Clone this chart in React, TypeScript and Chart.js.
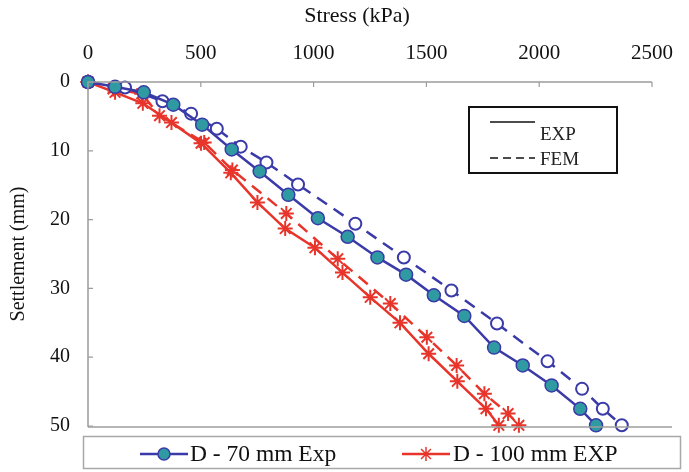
import React, { useEffect, useRef } from 'react';
import { Chart, registerables } from 'chart.js';

Chart.register(...registerables);

// ---- data ----
const xTickValues = [0, 500, 1000, 1500, 2000, 2500];
const yTickValues = [0, 10, 20, 30, 40, 50];

const d70ExpStress = [0, 120, 247, 378, 506, 637, 761, 888, 1019, 1151, 1283, 1410, 1533, 1668, 1800, 1927, 2055, 2182, 2252];
const d70ExpSettle = [0, 0.7, 1.5, 3.3, 6.2, 9.8, 13.0, 16.4, 19.8, 22.5, 25.5, 28.0, 31.0, 34.0, 38.6, 41.2, 44.1, 47.5, 49.9];

const d70FemStress = [0, 164, 330, 457, 571, 677, 791, 931, 1185, 1400, 1611, 1813, 2037, 2190, 2282, 2366];
const d70FemSettle = [0, 0.8, 2.8, 4.6, 6.8, 9.4, 11.7, 14.9, 20.6, 25.5, 30.3, 35.1, 40.6, 44.6, 47.5, 49.9];

const d100ExpStress = [0, 120, 243, 370, 501, 633, 751, 874, 1006, 1128, 1251, 1383, 1510, 1637, 1764, 1821];
const d100ExpSettle = [0, 1.5, 3.1, 5.9, 8.9, 13.2, 17.5, 21.3, 24.1, 27.7, 31.3, 35.0, 39.5, 43.5, 47.5, 49.9];

const d100FemStress = [0, 111, 238, 317, 515, 640, 879, 1107, 1340, 1502, 1634, 1757, 1862, 1910];
const d100FemSettle = [0, 1.0, 1.7, 4.9, 8.8, 12.8, 19.1, 25.7, 32.2, 37.1, 41.2, 45.3, 48.2, 49.9];

const xTitle = 'Stress (kPa)';
const yTitle = 'Settlement (mm)';
const legendLabels = ['D - 70 mm Exp', 'D - 100 mm EXP'];
const innerLegendLabels = ['EXP', 'FEM'];

const BLUE = '#3a3aa8';
const TEAL = '#2f9aa2';
const RED = '#e8352b';
const SERIF = '"Liberation Serif", "Times New Roman", serif';

const pts = (xs: number[], ys: number[]) => xs.map((x, i) => ({ x, y: ys[i] }));

function drawStar(ctx: CanvasRenderingContext2D, x: number, y: number, r: number) {
  ctx.beginPath();
  for (let k = 0; k < 4; k++) {
    const a = (k * Math.PI) / 4;
    ctx.moveTo(x - r * Math.cos(a), y - r * Math.sin(a));
    ctx.lineTo(x + r * Math.cos(a), y + r * Math.sin(a));
  }
  ctx.stroke();
}

const decor = {
  id: 'decor',
  afterDraw(chart: any) {
    const { ctx, chartArea: a, scales } = chart;
    const xs = scales.x;
    const ys = scales.y;
    ctx.save();
    // axis lines
    ctx.strokeStyle = '#9c9c9c';
    ctx.lineWidth = 1.5;
    ctx.beginPath();
    ctx.moveTo(a.left, a.bottom + 1);
    ctx.lineTo(a.left, a.top);
    ctx.lineTo(a.right, a.top);
    ctx.stroke();
    ctx.beginPath();
    ctx.moveTo(a.left, a.bottom + 1);
    ctx.lineTo(a.right + 20, a.bottom + 1);
    ctx.stroke();
    // inward tick marks
    ctx.lineWidth = 1.2;
    ctx.beginPath();
    xTickValues.forEach((v) => {
      const px = xs.getPixelForValue(v);
      ctx.moveTo(px, a.top);
      ctx.lineTo(px, a.top + 5);
    });
    yTickValues.forEach((v) => {
      const py = ys.getPixelForValue(v);
      ctx.moveTo(a.left, py);
      ctx.lineTo(a.left + 5, py);
    });
    ctx.stroke();

    // x axis title (top)
    ctx.fillStyle = '#111';
    ctx.font = `22px ${SERIF}`;
    ctx.textAlign = 'center';
    ctx.textBaseline = 'middle';
    ctx.fillText(xTitle, 357, 16);

    // inner legend (EXP / FEM)
    ctx.strokeStyle = '#111';
    ctx.lineWidth = 2;
    ctx.strokeRect(469, 107, 148, 66);
    ctx.lineWidth = 1.5;
    ctx.beginPath();
    ctx.moveTo(490, 122);
    ctx.lineTo(535, 122);
    ctx.stroke();
    ctx.setLineDash([8, 5]);
    ctx.beginPath();
    ctx.moveTo(490, 158);
    ctx.lineTo(535, 158);
    ctx.stroke();
    ctx.setLineDash([]);
    ctx.fillStyle = '#222';
    ctx.font = `19px ${SERIF}`;
    ctx.textAlign = 'left';
    ctx.fillText(innerLegendLabels[0], 540, 135);
    ctx.fillText(innerLegendLabels[1], 540, 160);

    // bottom legend
    ctx.strokeStyle = '#a8a8a8';
    ctx.lineWidth = 1.5;
    ctx.strokeRect(83.5, 436.5, 597, 32);
    const ly = 454;
    ctx.strokeStyle = BLUE;
    ctx.lineWidth = 2.5;
    ctx.beginPath();
    ctx.moveTo(140, ly);
    ctx.lineTo(188, ly);
    ctx.stroke();
    ctx.fillStyle = TEAL;
    ctx.lineWidth = 1.5;
    ctx.beginPath();
    ctx.arc(164, ly, 6, 0, Math.PI * 2);
    ctx.fill();
    ctx.stroke();
    ctx.strokeStyle = RED;
    ctx.lineWidth = 2.5;
    ctx.beginPath();
    ctx.moveTo(402, ly);
    ctx.lineTo(450, ly);
    ctx.stroke();
    ctx.lineWidth = 1.5;
    drawStar(ctx, 426, ly, 7);
    ctx.fillStyle = '#111';
    ctx.font = `23.5px ${SERIF}`;
    ctx.fillText(legendLabels[0], 190, ly + 1);
    ctx.fillText(legendLabels[1], 453, ly + 1);
    ctx.restore();
  },
};

export default function App() {
  const ref = useRef<HTMLCanvasElement>(null);
  useEffect(() => {
    document.body.style.margin = '0';
    const chart = new Chart(ref.current!, {
      type: 'scatter',
      data: {
        datasets: [
          {
            label: 'D - 70 mm Exp',
            data: pts(d70ExpStress, d70ExpSettle),
            showLine: true,
            borderColor: BLUE,
            borderWidth: 2.5,
            backgroundColor: TEAL,
            pointBackgroundColor: TEAL,
            pointBorderColor: BLUE,
            pointBorderWidth: 1.5,
            pointRadius: 6.5,
            tension: 0,
            clip: false,
          } as any,
          {
            label: 'D - 70 mm FEM',
            data: pts(d70FemStress, d70FemSettle),
            showLine: true,
            borderColor: BLUE,
            borderWidth: 2.5,
            borderDash: [12, 8],
            pointBackgroundColor: '#ffffff',
            pointBorderColor: BLUE,
            pointBorderWidth: 2,
            pointRadius: 6,
            tension: 0,
            clip: false,
          } as any,
          {
            label: 'D - 100 mm EXP',
            data: pts(d100ExpStress, d100ExpSettle),
            showLine: true,
            borderColor: RED,
            borderWidth: 2.5,
            pointStyle: 'star',
            pointBorderColor: RED,
            pointBorderWidth: 2,
            pointRadius: 7.5,
            tension: 0,
            clip: false,
          } as any,
          {
            label: 'D - 100 mm FEM',
            data: pts(d100FemStress, d100FemSettle),
            showLine: true,
            borderColor: RED,
            borderWidth: 2.5,
            borderDash: [12, 8],
            pointStyle: 'star',
            pointBorderColor: RED,
            pointBorderWidth: 2,
            pointRadius: 7.5,
            tension: 0,
            clip: false,
          } as any,
        ],
      },
      options: {
        responsive: false,
        animation: false,
        layout: { padding: { left: 0, top: 0, right: 29, bottom: 46 } },
        plugins: { legend: { display: false }, tooltip: { enabled: false } },
        scales: {
          x: {
            type: 'linear',
            position: 'top',
            min: 0,
            max: 2500,
            afterFit: (s: any) => {
              s.height = 82;
            },
            afterBuildTicks: (s: any) => {
              s.ticks = xTickValues.map((v) => ({ value: v }));
            },
            ticks: {
              font: { family: SERIF, size: 21 },
              color: '#111',
              padding: 16,
              callback: (v: any) => String(v),
            },
            grid: { display: false, drawTicks: false },
            border: { display: false },
            title: { display: false },
          },
          y: {
            type: 'linear',
            reverse: true,
            min: 0,
            max: 50,
            afterFit: (s: any) => {
              s.width = 88;
            },
            afterBuildTicks: (s: any) => {
              s.ticks = yTickValues.map((v) => ({ value: v }));
            },
            ticks: {
              font: { family: SERIF, size: 20 },
              color: '#111',
              padding: 18,
              callback: (v: any) => String(v),
            },
            grid: { display: false, drawTicks: false },
            border: { display: false },
            title: {
              display: true,
              text: yTitle,
              font: { family: SERIF, size: 20 },
              color: '#111',
              padding: { top: 7, bottom: 0 },
            },
          },
        },
      } as any,
      plugins: [decor],
    });
    return () => chart.destroy();
  }, []);
  return (
    <div style={{ position: 'fixed', left: 0, top: 0, width: 689, height: 472, background: '#fff' }}>
      <canvas ref={ref} width={689} height={472} style={{ width: 689, height: 472 }} />
    </div>
  );
}
